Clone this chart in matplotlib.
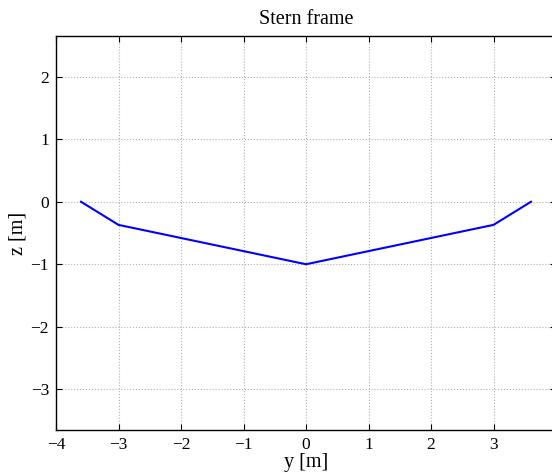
import matplotlib.pyplot as plt

plt.rcParams['font.family'] = ['Liberation Serif', 'DejaVu Serif']

# stern frame section points
y_pts = [-3.6, -3.0, 0.0, 3.0, 3.6]
z_pts = [0.0, -0.37, -1.0, -0.37, 0.0]
x_ticks = [-4, -3, -2, -1, 0, 1, 2, 3, 4]
z_ticks = [-3, -2, -1, 0, 1, 2]

W, H = 552, 473
fig = plt.figure(figsize=(W/100, H/100), dpi=100)
# axes reaches past the right edge like the original export
ax = fig.add_axes([56/W, 43/H, 500/W, 394/H])

ax.plot(y_pts, z_pts, c='blue', linewidth=1.5)
ax.set_xlim(-4, 4)
ax.set_ylim(-3.652, 2.652)
ax.set_xticks(x_ticks)
ax.set_yticks(z_ticks)
ax.grid(True, linestyle=':', color='#b0b0b0', linewidth=0.8)
ax.tick_params(direction='in', length=4, top=True, right=True, labelsize=12.5, width=0.8, pad=5)
for key, spine in ax.spines.items():
    spine.set_linewidth(1.0)

ax.set_title('Stern frame', fontsize=14.5, pad=9)
ax.set_xlabel('y [m]', fontsize=14.5, labelpad=0)
ax.set_ylabel('z [m]', fontsize=14.5, labelpad=2)

fig.savefig('out.png', dpi=100)
